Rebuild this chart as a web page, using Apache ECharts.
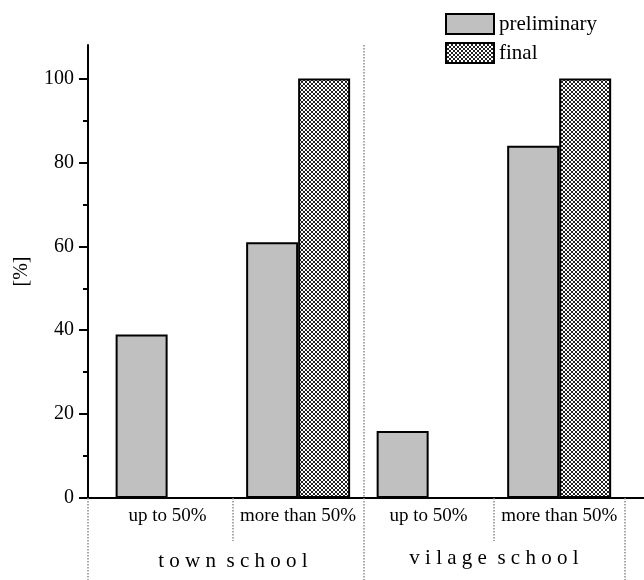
<!DOCTYPE html>
<html><head><meta charset="utf-8">
<script src="https://cdn.jsdelivr.net/npm/echarts@6/dist/echarts.min.js"></script>
<style>html,body{margin:0;padding:0;background:#fff}#c{width:644px;height:580px}</style>
</head><body><div id="c"></div>
<script>
// ---- data ----
const categories = ['up to 50%', 'more than 50%', 'up to 50%', 'more than 50%'];
const categoryPositions = [1, 2, 3, 4];
const groups = ['t o w n  s c h o o l', 'v i l a g e  s c h o o l'];
const preliminary = [39, 61, 16, 84];
const finalValues = [null, 100, null, 100];
const yTickLabels = [0, 20, 40, 60, 80, 100];
const yMinorTicks = [10, 30, 50, 70, 90];
const seriesNames = ['preliminary', 'final'];

// ---- layout helpers ----
const X_MIN = 0.39, X_MAX = 4.65;
const FONT = "'Liberation Serif', 'Times New Roman', serif";
const groupCenters = [0, 1].map(g => (categoryPositions[2 * g] + categoryPositions[2 * g + 1]) / 2);
const innerSeparators = [0, 1].map(g => categoryPositions[2 * g] + 0.5);
const outerSeparators = [X_MIN, categoryPositions[1] + 0.5, categoryPositions[3] + 0.5];
const middleSeparator = [categoryPositions[1] + 0.5];

// crosshatch pattern
const pc = document.createElement('canvas');
pc.width = 4; pc.height = 4;
const pctx = pc.getContext('2d');
pctx.fillStyle = '#ffffff'; pctx.fillRect(0, 0, 4, 4);
pctx.strokeStyle = '#222'; pctx.lineWidth = 1;
pctx.beginPath();
pctx.moveTo(-1, -1); pctx.lineTo(5, 5);
pctx.moveTo(-1, 5); pctx.lineTo(5, -1);
pctx.stroke();
const hatch = { image: pc, repeat: 'repeat' };

const dotted = { color: '#8a8a8a', width: 1.5, type: [1.5, 1.5] };

const chart = echarts.init(document.getElementById('c'), null, { renderer: 'canvas' });
chart.setOption({
  animation: false,
  backgroundColor: '#fff',
  textStyle: { fontFamily: FONT, color: '#000' },
  legend: {
    orient: 'vertical', left: 445, top: 13, padding: 0,
    itemWidth: 48, itemHeight: 20, itemGap: 7, icon: 'rect',
    itemStyle: { borderColor: '#000', borderWidth: 2 },
    textStyle: { fontFamily: FONT, fontSize: 21, color: '#000' },
    data: seriesNames
  },
  grid: { left: 88, right: 0, top: 45, bottom: 82, containLabel: false, outerBoundsMode: 'none' },
  xAxis: [
    { // main axis with bars, category labels and short separators
      type: 'value', position: 'bottom', min: X_MIN, max: X_MAX,
      axisLine: { show: true, onZero: false, lineStyle: { color: '#000', width: 2 } },
      axisTick: { show: true, customValues: innerSeparators, length: 43, lineStyle: dotted },
      axisLabel: {
        show: true, customValues: categoryPositions, margin: 9,
        fontFamily: FONT, fontSize: 19, color: '#000',
        formatter: v => categories[Math.round(v) - 1]
      },
      splitLine: { show: false }
    },
    { // group axis with long separators
      type: 'value', position: 'bottom', min: X_MIN, max: X_MAX,
      axisLine: { show: false, onZero: false },
      axisTick: { show: true, customValues: outerSeparators, length: 82, lineStyle: dotted },
      axisLabel: {
        show: true, customValues: groupCenters, margin: 50,
        formatter: v => (v < 2.5 ? '{t|' + groups[0] + '}' : '{v|' + groups[1] + '}'),
        rich: {
          t: { fontFamily: FONT, fontSize: 21, color: '#000', padding: [3, 0, 0, 0] },
          v: { fontFamily: FONT, fontSize: 21, color: '#000' }
        }
      },
      splitLine: { show: false }
    },
    { // middle full-height separator
      type: 'value', position: 'bottom', min: X_MIN, max: X_MAX,
      axisLine: { show: false, onZero: false },
      axisTick: { show: false, customValues: middleSeparator },
      axisLabel: { show: false },
      splitLine: { show: true, lineStyle: dotted }
    }
  ],
  yAxis: [
    {
      type: 'value', position: 'left', min: 0, max: 108,
      name: '[%]', nameLocation: 'middle', nameGap: 56,
      nameTextStyle: { fontFamily: FONT, fontSize: 20, color: '#000' },
      axisLine: { show: true, lineStyle: { color: '#000', width: 2 } },
      axisTick: { show: true, customValues: yTickLabels, length: 9, lineStyle: { color: '#000', width: 2 } },
      axisLabel: { show: true, customValues: yTickLabels, margin: 14, fontFamily: FONT, fontSize: 20, color: '#000' },
      splitLine: { show: false }
    },
    {
      type: 'value', position: 'left', min: 0, max: 108,
      axisLine: { show: false },
      axisTick: { show: true, customValues: yMinorTicks, length: 5, lineStyle: { color: '#000', width: 2 } },
      axisLabel: { show: false },
      splitLine: { show: false }
    }
  ],
  series: [
    {
      name: seriesNames[0], type: 'bar', xAxisIndex: 0, yAxisIndex: 0,
      barWidth: 52, barGap: '0%',
      itemStyle: { color: '#c0c0c0', borderColor: '#000', borderWidth: 2 },
      data: categoryPositions.map((x, i) => [x, preliminary[i] == null ? '-' : preliminary[i]])
    },
    {
      name: seriesNames[1], type: 'bar', xAxisIndex: 0, yAxisIndex: 0,
      barWidth: 52, barGap: '0%',
      itemStyle: { color: hatch, borderColor: '#000', borderWidth: 2 },
      data: categoryPositions.map((x, i) => [x, finalValues[i] == null ? '-' : finalValues[i]])
    }
  ]
});
</script>
</body></html>
